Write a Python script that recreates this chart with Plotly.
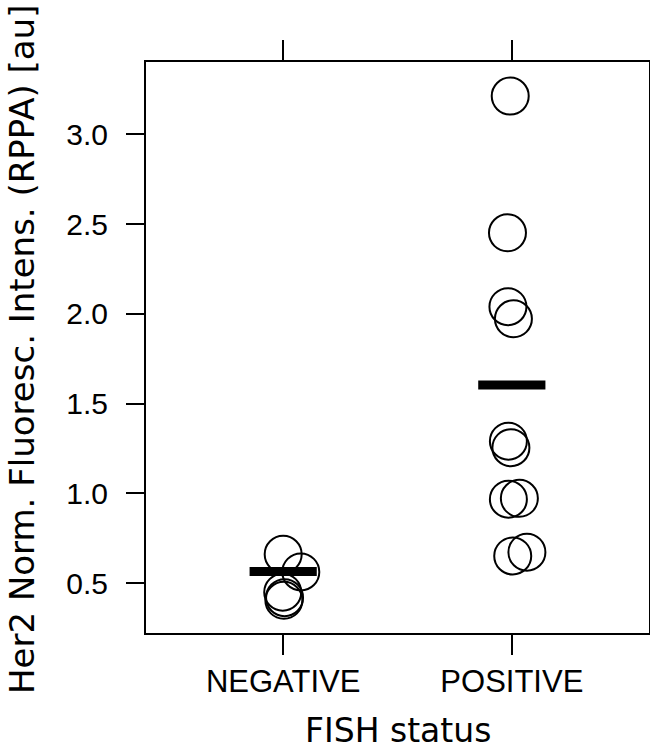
import plotly.graph_objects as go

# ---- data ----
groups = ["NEGATIVE", "POSITIVE"]
group_pos = [1, 2]

neg_x = [1.000, 1.077, 0.998, 1.006, 1.003]
neg_y = [0.661, 0.563, 0.450, 0.420, 0.405]

pos_x = [1.993, 1.981, 1.983, 2.007, 1.985, 1.996, 1.985, 2.033, 2.004, 2.066]
pos_y = [3.213, 2.452, 2.040, 1.973, 1.291, 1.255, 0.968, 0.973, 0.652, 0.673]

group_mean = [0.565, 1.604]

y_ticks = [0.5, 1.0, 1.5, 2.0, 2.5, 3.0]
y_ticktext = ["0.5", "1.0", "1.5", "2.0", "2.5", "3.0"]

FONT = "Liberation Sans, Arial, sans-serif"
TFONT = "DejaVu Sans, sans-serif"

fig = go.Figure()

fig.add_trace(go.Scatter(
    x=neg_x + pos_x, y=neg_y + pos_y, mode="markers",
    marker=dict(symbol="circle-open", size=37, color="black",
                line=dict(width=2, color="black")),
    showlegend=False, hoverinfo="y"))

fig.add_trace(go.Scatter(
    x=group_pos, y=group_mean, mode="markers",
    marker=dict(symbol="line-ew", size=48, color="black",
                line=dict(width=9, color="black")),
    showlegend=False, hoverinfo="y"))

fig.update_layout(
    width=650, height=750,
    margin=dict(l=146, r=1, t=62, b=117, autoexpand=False),
    paper_bgcolor="white", plot_bgcolor="white",
    font=dict(family=FONT, color="black", size=30),
    xaxis=dict(range=[0.4, 2.6], tickvals=group_pos, ticktext=groups,
               ticks="outside", ticklen=20, tickwidth=2, tickcolor="black",
               showline=True, linewidth=2, linecolor="black", mirror="allticks",
               showgrid=False, zeroline=False,
               tickfont=dict(size=31, family=FONT)),
    yaxis=dict(range=[0.223, 3.403], tickvals=y_ticks, ticktext=y_ticktext,
               ticks="outside", ticklen=18, tickwidth=2, tickcolor="black",
               showline=True, linewidth=2, linecolor="black", mirror=True,
               showgrid=False, zeroline=False, ticklabelstandoff=12,
               tickfont=dict(size=30, family=FONT)),
    annotations=[
        dict(text="FISH status", xref="paper", yref="paper",
             x=0.5, y=-0.170, xanchor="center", yanchor="middle",
             showarrow=False, font=dict(size=33, family=TFONT)),
        dict(text="Her2 Norm. Fluoresc. Intens. (RPPA) [au]", xref="paper", yref="paper",
             x=-0.2465, y=0.4956, xanchor="center", yanchor="middle", textangle=-90,
             showarrow=False, font=dict(size=34, family=TFONT)),
    ],
)

fig.write_html("out.html", config={"displayModeBar": False},
               post_script="document.body.style.margin='0px';")
